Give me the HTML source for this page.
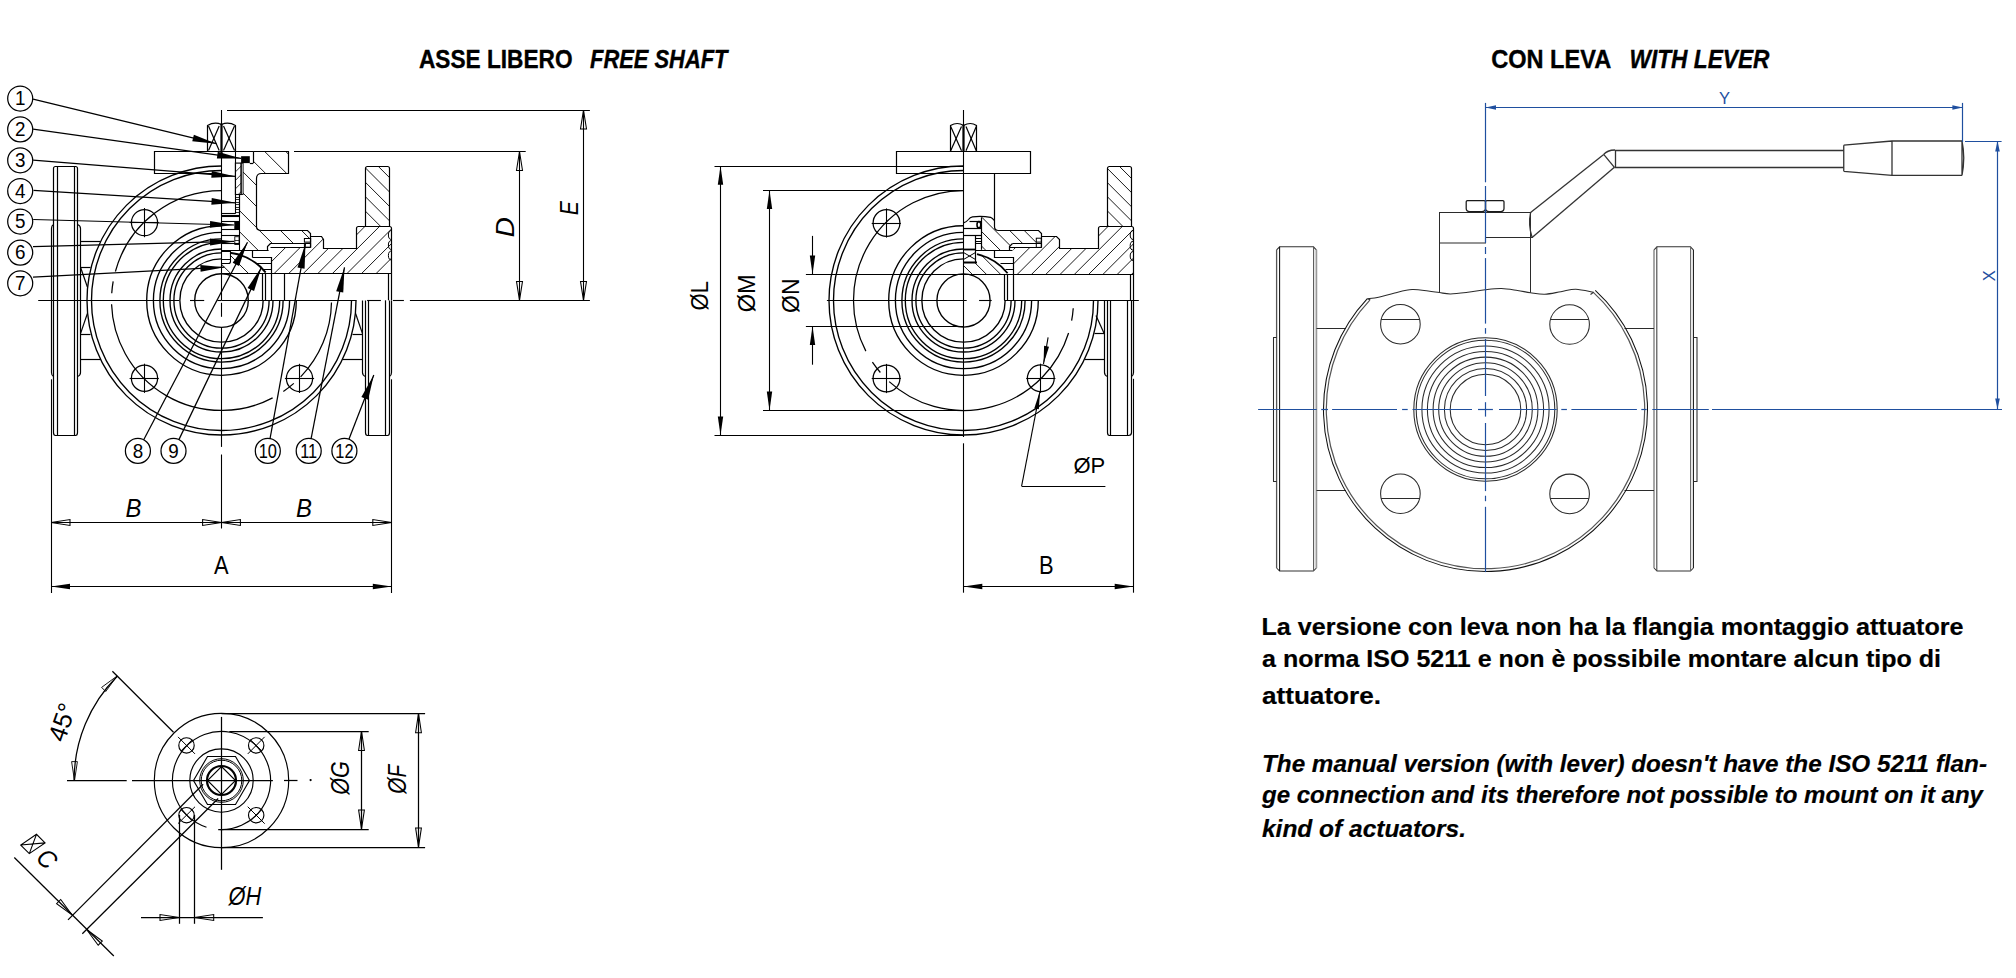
<!DOCTYPE html>
<html><head><meta charset="utf-8">
<style>
html,body{margin:0;padding:0;background:#fff;}
body{width:2016px;height:978px;overflow:hidden;position:relative;}
svg{position:absolute;left:0;top:0;}
text{font-family:"Liberation Sans",sans-serif;}
</style></head><body>
<svg width="2016" height="978" viewBox="0 0 2016 978">

<g font-weight="bold" font-size="25.2" stroke="#000" stroke-width="0.35">
<text x="419" y="67.8" textLength="153.5" lengthAdjust="spacingAndGlyphs">ASSE LIBERO</text>
<text x="590" y="67.8" textLength="137.5" lengthAdjust="spacingAndGlyphs" font-style="italic">FREE SHAFT</text>
<text x="1491.2" y="68" textLength="120" lengthAdjust="spacingAndGlyphs">CON LEVA</text>
<text x="1629.5" y="68" textLength="140" lengthAdjust="spacingAndGlyphs" font-style="italic">WITH LEVER</text>
</g>
<g font-weight="bold" font-size="24" stroke="#000" stroke-width="0.2">
<text x="1261.5" y="635" textLength="702" lengthAdjust="spacingAndGlyphs">La versione con leva non ha la flangia montaggio attuatore</text>
<text x="1262" y="666.6" textLength="679" lengthAdjust="spacingAndGlyphs">a norma ISO 5211 e non è possibile montare alcun tipo di</text>
<text x="1262" y="703.5" textLength="119" lengthAdjust="spacingAndGlyphs">attuatore.</text>
</g>
<g font-weight="bold" font-style="italic" font-size="24" stroke="#000" stroke-width="0.2">
<text x="1262" y="771.7" textLength="725" lengthAdjust="spacingAndGlyphs">The manual version (with lever) doesn't have the ISO 5211 flan-</text>
<text x="1262" y="803.3" textLength="721" lengthAdjust="spacingAndGlyphs">ge connection and its therefore not possible to mount on it any</text>
<text x="1262" y="836.5" textLength="204" lengthAdjust="spacingAndGlyphs">kind of actuators.</text>
</g>
<g fill="none" stroke="#2b2b2b" stroke-width="1.05">
<path d="M1276.6,249.8 L1279.6,246.8 L1313.4,246.8 L1316.4,249.8 M1316.4,568 L1313.4,571 L1279.6,571 L1276.6,568" stroke="#333"/><line x1="1276.6" y1="249.8" x2="1276.6" y2="568" stroke="#555" stroke-width="1.3"/><line x1="1279.6" y1="246.8" x2="1279.6" y2="571" stroke="#111" stroke-width="1.05"/><line x1="1313.6" y1="246.8" x2="1313.6" y2="571" stroke="#555" stroke-width="1.1"/><line x1="1316.4" y1="249.8" x2="1316.4" y2="568" stroke="#999" stroke-width="1.7"/>
<path d="M1654.0,249.8 L1657.0,246.8 L1690.4,246.8 L1693.4,249.8 M1693.4,568 L1690.4,571 L1657.0,571 L1654.0,568" stroke="#333"/><line x1="1654.0" y1="249.8" x2="1654.0" y2="568" stroke="#999" stroke-width="1.7"/><line x1="1656.8" y1="246.8" x2="1656.8" y2="571" stroke="#444" stroke-width="1.1"/><line x1="1690.6" y1="246.8" x2="1690.6" y2="571" stroke="#666" stroke-width="1.1"/><line x1="1693.4" y1="249.8" x2="1693.4" y2="568" stroke="#111" stroke-width="1.05"/>
<path d="M1276.6,337.5 H1273.5 V481.5 H1276.6"/>
<path d="M1693.4,337.5 H1697 V481.5 H1693.4"/>
<line x1="1316.5" y1="328.5" x2="1346" y2="328.5"/><line x1="1316.5" y1="490.5" x2="1346" y2="490.5"/>
<line x1="1624.5" y1="328.5" x2="1654" y2="328.5"/>
<line x1="1624.5" y1="490.5" x2="1654" y2="490.5"/>
<path d="M1595.28,290.37 A162,162 0 1 1 1367.35,298.66" stroke="#111"/>
<path d="M1592.84,291.93 A159.2,159.2 0 1 1 1369.86,300.08" stroke="#555" stroke-width="1.2"/>
<line x1="1367.5" y1="298.8" x2="1370.3" y2="299.8"/><line x1="1593.5" y1="292.3" x2="1590.5" y2="294.5"/>
<path d="M1367.4,298.8 C1369.27,298.55 1374.05,298.28 1378.6,297.3 C1383.15,296.32 1389.12,294.18 1394.7,292.9 C1400.28,291.62 1406.52,289.9 1412.1,289.6 C1417.68,289.3 1423.65,290.6 1428.2,291.1 C1432.75,291.6 1435.68,292.13 1439.4,292.6 C1443.12,293.07 1445.75,293.95 1450.5,293.9 C1455.25,293.85 1462.12,292.98 1467.9,292.3 C1473.68,291.62 1479.62,290.42 1485.2,289.8 C1490.78,289.18 1496.02,288.48 1501.4,288.6 C1506.78,288.72 1512.65,289.82 1517.5,290.5 C1522.35,291.18 1525.95,292.08 1530.5,292.7 C1535.05,293.32 1539.73,294.37 1544.8,294.2 C1549.87,294.03 1555.73,292.53 1560.9,291.7 C1566.07,290.87 1570.43,289.1 1575.8,289.2 C1581.17,289.3 1590.22,291.78 1593.1,292.3"/>
<line x1="1439.5" y1="212" x2="1439.5" y2="292.6"/><line x1="1530.5" y1="212" x2="1530.5" y2="292.7"/>
<line x1="1439.3" y1="212.5" x2="1530.6" y2="212.5"/>
<path d="M1439.3,243 H1485.5 V237.4 H1533"/>
<path d="M1466.2,201.8 Q1466.2,200.7 1467.4,200.7 H1484.2 Q1485.4,200.7 1485.4,201.8 V208.5 Q1485.4,211.5 1481.9,211.7 H1469.7 Q1466.2,211.5 1466.2,208.5 Z" stroke="#1a1a1a" stroke-width="1.25"/>
<path d="M1485.6,201.8 Q1485.6,200.7 1486.8,200.7 H1502.8 Q1504,200.7 1504,201.8 V208.5 Q1504,211.5 1500.5,211.7 H1489.1 Q1485.6,211.5 1485.6,208.5 Z" stroke="#1a1a1a" stroke-width="1.25"/>
<g stroke="#333" stroke-width="1.3">
<line x1="1530.6" y1="212.4" x2="1603.7" y2="154.4"/>
<line x1="1532.1" y1="237.4" x2="1614.4" y2="167.3"/>
<path d="M1603.7,154.4 Q1607,150.2 1615,150"/>
<line x1="1603.7" y1="154.4" x2="1614.4" y2="167.3"/><line x1="1615.5" y1="150" x2="1615.5" y2="167.2"/>
<line x1="1615" y1="150.5" x2="1843.75" y2="150.5"/><line x1="1614.4" y1="167.5" x2="1843.75" y2="167.5"/>
<path d="M1843.75,145.2 L1892,141 H1962 M1843.75,171.3 L1892,175.4 H1962 M1843.75,145.2 V171.3 M1892,141 V175.4"/>
<path d="M1962,141 Q1965.5,158 1962,175.4 Z"/>
<path d="M1530.6,212.4 Q1528,225 1532.1,237.4"/>
</g>
<circle cx="1400.4" cy="324.2" r="19.8"/>
<line x1="1381.22" y1="319.5" x2="1419.58" y2="319.5"/>
<circle cx="1569.6" cy="324.5" r="19.8"/>
<line x1="1550.5" y1="319.5" x2="1588.7" y2="319.5"/>
<circle cx="1400.4" cy="493.7" r="19.8"/>
<line x1="1381.12" y1="498.5" x2="1419.68" y2="498.5"/>
<circle cx="1569.6" cy="493.9" r="19.8"/>
<line x1="1550.34" y1="498.5" x2="1588.86" y2="498.5"/>
<circle cx="1485.5" cy="409.5" r="71.7"/>
<circle cx="1485.5" cy="409.5" r="69.3"/>
<circle cx="1485.5" cy="409.5" r="63.6"/>
<circle cx="1485.5" cy="409.5" r="58.1"/>
<circle cx="1485.5" cy="409.5" r="52.4"/>
<circle cx="1485.5" cy="409.5" r="46.8"/>
<circle cx="1485.5" cy="409.5" r="41.1"/>
<circle cx="1485.5" cy="409.5" r="35.3"/>
</g>
<g stroke="#1f4f9f" stroke-width="1.2" fill="none">
<line x1="1258.1" y1="409.5" x2="1316.7" y2="409.5"/>
<line x1="1321.2" y1="409.5" x2="1328" y2="409.5"/>
<line x1="1332.1" y1="409.5" x2="1397" y2="409.5"/>
<line x1="1402.1" y1="409.5" x2="1407.7" y2="409.5"/>
<line x1="1412.5" y1="409.5" x2="1472" y2="409.5"/>
<line x1="1478" y1="409.5" x2="1492.9" y2="409.5"/>
<line x1="1499" y1="409.5" x2="1556.8" y2="409.5"/>
<line x1="1561.3" y1="409.5" x2="1566.9" y2="409.5"/>
<line x1="1571.4" y1="409.5" x2="1636.9" y2="409.5"/>
<line x1="1641.3" y1="409.5" x2="1646.7" y2="409.5"/>
<line x1="1652.3" y1="409.5" x2="1708.8" y2="409.5"/>
<line x1="1712" y1="409.5" x2="2002" y2="409.5"/>
<line x1="1485.5" y1="102.9" x2="1485.5" y2="182.3"/>
<line x1="1485.5" y1="186" x2="1485.5" y2="243"/>
<line x1="1485.5" y1="247" x2="1485.5" y2="254"/>
<line x1="1485.5" y1="258.1" x2="1485.5" y2="323.6"/>
<line x1="1485.5" y1="328.1" x2="1485.5" y2="333.7"/>
<line x1="1485.5" y1="338.9" x2="1485.5" y2="396"/>
<line x1="1485.5" y1="402.2" x2="1485.5" y2="416.6"/>
<line x1="1485.5" y1="423" x2="1485.5" y2="491.1"/>
<line x1="1485.5" y1="495.7" x2="1485.5" y2="501.2"/>
<line x1="1485.5" y1="506.8" x2="1485.5" y2="572.1"/>
<line x1="1485.5" y1="107.5" x2="1962.9" y2="107.5"/><line x1="1962.5" y1="102.9" x2="1962.5" y2="142"/><line x1="1965" y1="141.5" x2="2001.6" y2="141.5"/><line x1="1997.5" y1="141" x2="1997.5" y2="409"/>
</g>
<path d="M1485.5,107.5 L1496,105.2 L1496,109.8 Z" fill="#1f4f9f" stroke="none"/><path d="M1962.9,107.5 L1952.4,109.8 L1952.4,105.2 Z" fill="#1f4f9f" stroke="none"/>
<path d="M1997.5,141 L1999.8,151.5 L1995.2,151.5 Z" fill="#1f4f9f" stroke="none"/><path d="M1997.5,408.9 L1995.2,398.4 L1999.8,398.4 Z" fill="#1f4f9f" stroke="none"/>
<text x="1724.4" y="104.2" font-size="16.5" fill="#1f4f9f" text-anchor="middle">Y</text>
<text transform="translate(1994.6,275.7) rotate(-90)" font-size="16.5" fill="#1f4f9f" text-anchor="middle">X</text>
<g fill="none" stroke="#000" stroke-width="1.2">
<circle cx="20.2" cy="98.5" r="12.5" stroke-width="1.25"/>
<circle cx="20.2" cy="129.4" r="12.5" stroke-width="1.25"/>
<circle cx="20.2" cy="160.3" r="12.5" stroke-width="1.25"/>
<circle cx="20.2" cy="191" r="12.5" stroke-width="1.25"/>
<circle cx="20.2" cy="221.5" r="12.5" stroke-width="1.25"/>
<circle cx="20.2" cy="252.6" r="12.5" stroke-width="1.25"/>
<circle cx="20.2" cy="283.3" r="12.5" stroke-width="1.25"/>
<line x1="33.1" y1="99.2" x2="216.4" y2="143.7" stroke-width="1.25"/>
<line x1="33.1" y1="129.1" x2="241.1" y2="158.4" stroke-width="1.25"/>
<line x1="33.1" y1="160.2" x2="235.5" y2="176.4" stroke-width="1.25"/>
<line x1="33.5" y1="190.3" x2="235.5" y2="202.8" stroke-width="1.25"/>
<line x1="33.2" y1="219.5" x2="234" y2="225" stroke-width="1.25"/>
<line x1="33" y1="246.6" x2="234" y2="241.4" stroke-width="1.25"/>
<line x1="33" y1="277.2" x2="224.4" y2="267.2" stroke-width="1.25"/>
<circle cx="137.9" cy="450.9" r="12.5" stroke-width="1.25"/>
<line x1="143.71" y1="439.83" x2="247.5" y2="242.2" stroke-width="1.25"/>
<circle cx="173.5" cy="450.9" r="12.5" stroke-width="1.25"/>
<line x1="178.9" y1="439.63" x2="261.6" y2="267" stroke-width="1.25"/>
<circle cx="267.8" cy="450.9" r="12.5" stroke-width="1.25"/>
<line x1="270.04" y1="438.6" x2="305.5" y2="243.5" stroke-width="1.25"/>
<circle cx="308.7" cy="450.9" r="12.5" stroke-width="1.25"/>
<line x1="311.09" y1="438.63" x2="344.5" y2="267.3" stroke-width="1.25"/>
<circle cx="344.4" cy="450.9" r="12.5" stroke-width="1.25"/>
<line x1="348.92" y1="439.25" x2="373.8" y2="375.1" stroke-width="1.25"/>
</g>
<path d="M216.4,143.7 L192.28,141.34 L193.88,134.73 Z" fill="#000" stroke="none"/>
<path d="M241.1,158.4 L216.86,158.42 L217.81,151.69 Z" fill="#000" stroke="none"/>
<path d="M235.5,176.4 L211.31,177.87 L211.85,171.1 Z" fill="#000" stroke="none"/>
<path d="M235.5,202.8 L211.34,204.71 L211.76,197.92 Z" fill="#000" stroke="none"/>
<path d="M234,225 L209.92,227.74 L210.1,220.94 Z" fill="#000" stroke="none"/>
<path d="M234,241.4 L210.1,245.42 L209.92,238.62 Z" fill="#000" stroke="none"/>
<path d="M224.4,267.2 L200.61,271.85 L200.26,265.06 Z" fill="#000" stroke="none"/>
<path d="M247.5,242.2 L239.06,266.01 L232.69,262.66 Z" fill="#000" stroke="none"/>
<path d="M261.6,267 L254.05,291.1 L247.55,287.99 Z" fill="#000" stroke="none"/>
<path d="M305.5,243.5 L304.57,268.74 L297.49,267.45 Z" fill="#000" stroke="none"/>
<path d="M344.5,267.3 L343.25,292.53 L336.18,291.15 Z" fill="#000" stroke="none"/>
<path d="M373.8,375.1 L368.12,399.71 L361.4,397.11 Z" fill="#000" stroke="none"/>
<text transform="translate(20.2,105.2) scale(0.92,1.0)" font-size="20.5" text-anchor="middle" fill="#000">1</text>
<text transform="translate(20.2,136.1) scale(0.92,1.0)" font-size="20.5" text-anchor="middle" fill="#000">2</text>
<text transform="translate(20.2,167) scale(0.92,1.0)" font-size="20.5" text-anchor="middle" fill="#000">3</text>
<text transform="translate(20.2,197.7) scale(0.92,1.0)" font-size="20.5" text-anchor="middle" fill="#000">4</text>
<text transform="translate(20.2,228.2) scale(0.92,1.0)" font-size="20.5" text-anchor="middle" fill="#000">5</text>
<text transform="translate(20.2,259.3) scale(0.92,1.0)" font-size="20.5" text-anchor="middle" fill="#000">6</text>
<text transform="translate(20.2,290) scale(0.92,1.0)" font-size="20.5" text-anchor="middle" fill="#000">7</text>
<text transform="translate(137.9,457.6) scale(0.92,1.0)" font-size="20.5" text-anchor="middle" fill="#000">8</text>
<text transform="translate(173.5,457.6) scale(0.92,1.0)" font-size="20.5" text-anchor="middle" fill="#000">9</text>
<text transform="translate(267.8,457.6) scale(0.8,1.0)" font-size="20.5" text-anchor="middle" fill="#000">10</text>
<text transform="translate(308.7,457.6) scale(0.8,1.0)" font-size="20.5" text-anchor="middle" fill="#000">11</text>
<text transform="translate(344.4,457.6) scale(0.8,1.0)" font-size="20.5" text-anchor="middle" fill="#000">12</text>
<g fill="none" stroke="#000" stroke-width="1.2">
<path d="M356,300.5 A134.5,134.5 0 1 1 221.5,166" stroke-width="1.35"/>
<path d="M351.5,300.5 A130,130 0 1 1 221.5,170.5" stroke-width="1.35"/>
<path d="M296.3,300.5 A74.8,74.8 0 1 1 221.5,225.7" stroke-width="1.35"/>
<path d="M289.6,300.5 A68.1,68.1 0 1 1 221.5,232.4" stroke-width="1.35"/>
<path d="M283.1,300.5 A61.6,61.6 0 1 1 221.5,238.9" stroke-width="1.35"/>
<path d="M279.7,300.5 A58.2,58.2 0 1 1 221.5,242.3" stroke-width="1.35"/>
<path d="M273,300.5 A51.5,51.5 0 1 1 221.5,249" stroke-width="1.35"/>
<path d="M269.1,300.5 A47.6,47.6 0 1 1 221.5,252.9" stroke-width="1.35"/>
<path d="M263.15,300.5 A41.65,41.65 0 1 1 221.5,258.85" stroke-width="1.35"/>
<circle cx="221.5" cy="300.5" r="26.8" stroke-width="1.35"/>
<path d="M115.4,271.47 A110,110 0 0 1 221.5,190.5" stroke-width="1.25"/>
<path d="M111.74,293.21 A110,110 0 0 1 113.17,281.4" stroke-width="1.25"/>
<path d="M272.63,397.89 A110,110 0 0 1 111.57,304.34" stroke-width="1.25"/>
<path d="M293.81,383.39 A110,110 0 0 1 283.33,391.48" stroke-width="1.25"/>
<path d="M331.48,302.42 A110,110 0 0 1 300.63,376.91" stroke-width="1.25"/>
<circle cx="144.5" cy="222.6" r="13.1" stroke-width="1.25"/>
<line x1="129.6" y1="222.5" x2="158.8" y2="222.5" stroke-width="1.1"/><line x1="144.5" y1="208" x2="144.5" y2="237.2" stroke-width="1.1"/>
<circle cx="144.5" cy="378.3" r="13.1" stroke-width="1.25"/>
<line x1="129.6" y1="378.5" x2="158.8" y2="378.5" stroke-width="1.1"/><line x1="144.5" y1="363.7" x2="144.5" y2="392.9" stroke-width="1.1"/>
<circle cx="299.5" cy="378.4" r="13.1" stroke-width="1.25"/>
<line x1="284.9" y1="378.5" x2="314.1" y2="378.5" stroke-width="1.1"/><line x1="299.5" y1="363.8" x2="299.5" y2="393" stroke-width="1.1"/>
</g>
<g fill="none" stroke="#000" stroke-width="1.2">
<path d="M53.5,168.5 Q53.5,166.5 55.5,166.5 H75.5 Q77.5,166.5 77.5,168.5 V432.5 Q77.5,435.5 75.5,435.5 H55.5 Q53.5,435.5 53.5,432.5 Z"/>
<line x1="57.5" y1="166.1" x2="57.5" y2="435.3"/><line x1="74.5" y1="166.1" x2="74.5" y2="435.3"/>
<path d="M53.5,224.5 Q51.5,225.5 51.5,228.5 V372.5 Q51.5,375.5 53.5,376.5"/>
<path d="M77.5,224.5 Q80.5,225.5 80.5,228.5 V372.5 Q80.5,375.5 77.5,376.5"/>
<line x1="80.5" y1="241.5" x2="100.5" y2="241.5"/><line x1="80.5" y1="267.5" x2="90.5" y2="267.5"/><line x1="80.6" y1="267.5" x2="87.4" y2="287"/>
<line x1="80.5" y1="334.5" x2="90.5" y2="334.5"/><line x1="80.5" y1="359.5" x2="100.5" y2="359.5"/><line x1="80.6" y1="333.4" x2="87.4" y2="313.5"/>
<path d="M389.5,300.5 V432.5 Q389.5,435.5 387.5,435.5 H367.5 Q365.5,435.5 365.5,432.5 V300.5"/>
<line x1="385.5" y1="300.3" x2="385.5" y2="435.3"/><line x1="368.5" y1="300.3" x2="368.5" y2="435.3"/>
<path d="M391.5,300.5 V372.5 Q391.5,375.5 389.5,376.5"/>
<path d="M362.5,300.5 V372.5 Q362.5,375.5 365.5,376.5"/>
<line x1="362.5" y1="334.5" x2="352.5" y2="334.5"/><line x1="362.5" y1="359.5" x2="342.5" y2="359.5"/><line x1="362.4" y1="333.4" x2="355.6" y2="313.5"/>
</g>
<g fill="none" stroke="#000" stroke-width="1.2">
<clipPath id="hc1"><path d="M365.5,168 Q365.5,166.1 367.5,166.1 H387.4 Q389.4,166.1 389.4,168 V226 H365.5 Z"/></clipPath><g clip-path="url(#hc1)" stroke="#000" stroke-width="0.9"><line x1="291.38" y1="166" x2="351.38" y2="226"/><line x1="305.8" y1="166" x2="365.8" y2="226"/><line x1="320.23" y1="166" x2="380.23" y2="226"/><line x1="334.65" y1="166" x2="394.65" y2="226"/><line x1="349.08" y1="166" x2="409.08" y2="226"/><line x1="363.5" y1="166" x2="423.5" y2="226"/><line x1="377.92" y1="166" x2="437.92" y2="226"/><line x1="392.35" y1="166" x2="452.35" y2="226"/></g>
<path d="M365.5,168.5 Q365.5,166.5 367.5,166.5 H387.5 Q389.5,166.5 389.5,168.5 V226.5 H365.5 Z"/>
<clipPath id="hc2"><path d="M310.7,236.2 H321 L323.3,239.4 V248.1 H356.7 V228.5 Q356.7,226.7 358.7,226.7 H389.6 Q391.6,226.7 391.6,228.7 V273.1 H271.7 V247.2 H310.7 Z"/></clipPath><g clip-path="url(#hc2)" stroke="#000" stroke-width="0.9"><line x1="263.4" y1="226" x2="215.4" y2="274"/><line x1="277.97" y1="226" x2="229.97" y2="274"/><line x1="292.53" y1="226" x2="244.53" y2="274"/><line x1="307.1" y1="226" x2="259.1" y2="274"/><line x1="321.67" y1="226" x2="273.67" y2="274"/><line x1="336.23" y1="226" x2="288.23" y2="274"/><line x1="350.8" y1="226" x2="302.8" y2="274"/><line x1="365.37" y1="226" x2="317.37" y2="274"/><line x1="379.93" y1="226" x2="331.93" y2="274"/><line x1="394.5" y1="226" x2="346.5" y2="274"/><line x1="409.07" y1="226" x2="361.07" y2="274"/><line x1="423.63" y1="226" x2="375.63" y2="274"/><line x1="438.2" y1="226" x2="390.2" y2="274"/><line x1="452.76" y1="226" x2="404.76" y2="274"/></g>
<path d="M310.5,236.5 H321.5 L323.5,239.5 V248.5 H356.5 V228.5 Q356.5,226.5 358.5,226.5 H389.5 Q391.5,226.5 391.5,228.5 V273.5"/>
<path d="M391.6,230.5 A3.2,4.5 0 0 0 391.6,239.5" stroke-width="1"/>
<path d="M391.6,240.5 A3.2,4.5 0 0 0 391.6,249.5" stroke-width="1"/>
<path d="M391.6,251 A3.2,4.5 0 0 0 391.6,260" stroke-width="1"/>
<clipPath id="hc3"><path d="M253.3,151.3 H288.8 V173.6 H261 Q256.4,173.6 256.4,178.5 V226 Q256.4,230 261.6,230 H307.6 L310.7,233 V243.3 H270.8 L267.6,246 V250.2 H239.8 V194.5 H243.1 V163.1 H253.3 Z"/></clipPath><g clip-path="url(#hc3)" stroke="#000" stroke-width="0.9"><line x1="115.7" y1="150" x2="217.7" y2="252"/><line x1="136.77" y1="150" x2="238.77" y2="252"/><line x1="157.84" y1="150" x2="259.84" y2="252"/><line x1="178.91" y1="150" x2="280.91" y2="252"/><line x1="199.98" y1="150" x2="301.98" y2="252"/><line x1="221.06" y1="150" x2="323.06" y2="252"/><line x1="242.13" y1="150" x2="344.13" y2="252"/><line x1="263.2" y1="150" x2="365.2" y2="252"/><line x1="284.27" y1="150" x2="386.27" y2="252"/><line x1="305.34" y1="150" x2="407.34" y2="252"/><line x1="326.42" y1="150" x2="428.42" y2="252"/></g>
<path d="M253.5,151.5 H288.5 V173.5 H261.5 Q256.5,173.5 256.5,178.5 V226.5 Q256.5,230.5 261.5,230.5 H307.5 L310.5,233.5 V247.5"/>
<line x1="253.5" y1="151.3" x2="253.5" y2="163.1"/><line x1="249.8" y1="163.5" x2="253.3" y2="163.5"/>
<path d="M270.5,243.5 H310.5 M270.5,247.5 H310.5 M270.5,243.5 L267.5,246.5 V250.5"/>
<rect x="304.4" y="238.5" width="6.3" height="3.6" stroke-width="1"/><rect x="304.4" y="243.3" width="6.3" height="3.9" stroke-width="1"/>
<clipPath id="hc4"><path d="M230.4,252.8 L230,252.8 A55.75,55.75 0 0 1 265.6,272.3 L265.6,273.3 H221.5 V263.2 H228.4 Q230.4,263.2 230.4,261 Z"/></clipPath><g clip-path="url(#hc4)" stroke="#000" stroke-width="0.9"><line x1="189.38" y1="250" x2="213.38" y2="274"/><line x1="207.2" y1="250" x2="231.2" y2="274"/><line x1="225.02" y1="250" x2="249.02" y2="274"/><line x1="242.84" y1="250" x2="266.84" y2="274"/><line x1="260.66" y1="250" x2="284.66" y2="274"/><line x1="278.48" y1="250" x2="302.48" y2="274"/></g>
<path d="M252.5,250.5 V257.5 M252.5,257.5 H271.5 V273.5 M256.5,263.5 H271.5 M262.5,269.5 H271.5"/>
<line x1="221.5" y1="250.5" x2="268.6" y2="250.5"/>
<line x1="221.5" y1="273.5" x2="391.6" y2="273.5"/>
<line x1="262.5" y1="273.3" x2="262.5" y2="300.3"/>
<line x1="265.5" y1="273.3" x2="265.5" y2="300.3"/>
<line x1="271.5" y1="273.3" x2="271.5" y2="300.3"/>
<line x1="284.5" y1="273.3" x2="284.5" y2="300.3"/>
<line x1="388.5" y1="273.3" x2="388.5" y2="300.3"/>
<line x1="391.5" y1="273.3" x2="391.5" y2="300.3"/>
<path d="M230,252.8 A55.75,55.75 0 0 1 265.6,272.3" stroke-width="1.9"/>
</g>
<g fill="none" stroke="#000" stroke-width="1.2">
<path d="M253.5,151.5 H154.5 V173.5 H221.5"/>
<path d="M207.5,151.5 V125.5 Q214.5,121.5 221.5,124.5 Q228.5,121.5 235.5,125.5 V151.5"/>
<line x1="208.5" y1="126" x2="219.2" y2="150.5"/><line x1="219.2" y1="126" x2="208.5" y2="150.5"/><line x1="223.5" y1="126" x2="234.5" y2="150.5"/><line x1="234.5" y1="126" x2="223.5" y2="150.5"/>
</g>
<line x1="221.5" y1="123.5" x2="221.5" y2="156" stroke="#000" stroke-width="2.2"/>
<g fill="none" stroke="#000" stroke-width="1.1">
<line x1="235.5" y1="151.3" x2="235.5" y2="213.7"/>
<rect x="235.4" y="163.1" width="5.7" height="31.4"/>
<clipPath id="hc5"><path d="M235.4,163.1 H241.1 V194.5 H235.4 Z"/></clipPath><g clip-path="url(#hc5)" stroke="#000" stroke-width="0.8"><line x1="227.32" y1="163" x2="195.32" y2="195"/><line x1="235.81" y1="163" x2="203.81" y2="195"/><line x1="244.29" y1="163" x2="212.29" y2="195"/><line x1="252.78" y1="163" x2="220.78" y2="195"/><line x1="261.26" y1="163" x2="229.26" y2="195"/><line x1="269.75" y1="163" x2="237.75" y2="195"/><line x1="278.23" y1="163" x2="246.23" y2="195"/></g>
<rect x="241.1" y="163.1" width="2" height="31.4" stroke-width="0.9"/>
<line x1="235.4" y1="194.5" x2="239.5" y2="194.5" stroke-width="0.8"/>
<line x1="235.4" y1="197.5" x2="239.5" y2="197.5" stroke-width="0.8"/>
<line x1="235.4" y1="199.5" x2="239.5" y2="199.5" stroke-width="0.8"/>
<line x1="235.4" y1="202.5" x2="239.5" y2="202.5" stroke-width="0.8"/>
<line x1="235.4" y1="204.5" x2="239.5" y2="204.5" stroke-width="0.8"/>
<line x1="235.4" y1="207.5" x2="239.5" y2="207.5" stroke-width="0.8"/>
<line x1="235.4" y1="209.5" x2="239.5" y2="209.5" stroke-width="0.8"/>
<line x1="235.4" y1="212.5" x2="239.5" y2="212.5" stroke-width="0.8"/>
<line x1="239.5" y1="194.5" x2="239.5" y2="214.5"/>
<line x1="221.5" y1="213.5" x2="235.4" y2="213.5"/><line x1="221.5" y1="215.5" x2="239.8" y2="215.5"/><line x1="221.5" y1="216.5" x2="239.8" y2="216.5"/>
<line x1="221.5" y1="221.5" x2="239.8" y2="221.5"/>
<line x1="221.5" y1="229.5" x2="239.8" y2="229.5"/>
<line x1="221.5" y1="235.5" x2="239.8" y2="235.5"/>
<line x1="221.5" y1="243.5" x2="239.8" y2="243.5"/>
<rect x="234.8" y="236.7" width="4.3" height="7.8" stroke-width="0.9"/><line x1="234.8" y1="240.5" x2="239.1" y2="240.5" stroke-width="0.8"/>
<line x1="239.5" y1="194.5" x2="239.5" y2="250.2"/>
<path d="M230.5,250.5 V261.5 Q230.5,263.5 228.5,263.5 H221.5 M221.5,251.5 H230.5 M221.5,259.5 H230.5"/>
</g>
<rect x="234.3" y="221.9" width="4.8" height="7.4" fill="#000"/>
<rect x="241.1" y="156.2" width="8.7" height="6.9" fill="#000"/>
<g stroke="#000" stroke-width="1.1" fill="none">
<line x1="221.5" y1="110" x2="221.5" y2="300.3"/>
<line x1="221.5" y1="300.5" x2="356.6" y2="300.5"/><line x1="367.1" y1="300.5" x2="380.9" y2="300.5"/><line x1="392.9" y1="300.5" x2="403.9" y2="300.5"/><line x1="409.9" y1="300.5" x2="589.9" y2="300.5"/>
<line x1="221.5" y1="302.8" x2="221.5" y2="316.8"/><line x1="221.5" y1="327" x2="221.5" y2="446.9"/><line x1="221.5" y1="454.5" x2="221.5" y2="528.5"/>
<line x1="38.2" y1="300.5" x2="179.1" y2="300.5"/><line x1="190" y1="300.5" x2="204.2" y2="300.5"/><line x1="217.3" y1="300.5" x2="221.5" y2="300.5"/>
<line x1="227" y1="110.5" x2="589.9" y2="110.5"/><line x1="294" y1="151.5" x2="525.7" y2="151.5"/>
<line x1="519.5" y1="151.5" x2="519.5" y2="300.3"/><line x1="583.5" y1="110.1" x2="583.5" y2="300.3"/>
<line x1="51.5" y1="379.3" x2="51.5" y2="593"/><line x1="391.5" y1="379.3" x2="391.5" y2="593"/>
<line x1="51.1" y1="522.5" x2="391.7" y2="522.5"/><line x1="51.1" y1="586.5" x2="391.7" y2="586.5"/>
</g>
<path d="M519.5,151.5 L522.5,170.4 L516.5,170.4 Z" fill="none" stroke="#000" stroke-width="1.05" stroke-linejoin="miter"/>
<path d="M519.5,300.3 L516.5,281.4 L522.5,281.4 Z" fill="none" stroke="#000" stroke-width="1.05" stroke-linejoin="miter"/>
<path d="M583.5,110.1 L586.5,129 L580.5,129 Z" fill="none" stroke="#000" stroke-width="1.05" stroke-linejoin="miter"/>
<path d="M583.5,300.3 L580.5,281.4 L586.5,281.4 Z" fill="none" stroke="#000" stroke-width="1.05" stroke-linejoin="miter"/>
<path d="M51.1,522.5 L70,519.5 L70,525.5 Z" fill="none" stroke="#000" stroke-width="1.05" stroke-linejoin="miter"/>
<path d="M221.5,522.5 L202.6,525.5 L202.6,519.5 Z" fill="none" stroke="#000" stroke-width="1.05" stroke-linejoin="miter"/>
<path d="M221.5,522.5 L240.4,519.5 L240.4,525.5 Z" fill="none" stroke="#000" stroke-width="1.05" stroke-linejoin="miter"/>
<path d="M391.7,522.5 L372.8,525.5 L372.8,519.5 Z" fill="none" stroke="#000" stroke-width="1.05" stroke-linejoin="miter"/>
<path d="M51.1,586.5 L70,583.7 L70,589.3 Z" fill="#000" stroke="none"/><path d="M391.7,586.5 L372.8,589.3 L372.8,583.7 Z" fill="#000" stroke="none"/>
<text transform="translate(133.5,517.1) scale(0.91,1.0)" font-size="26.3" text-anchor="middle" fill="#000" font-style="italic">B</text>
<text transform="translate(303.9,517.1) scale(0.91,1.0)" font-size="26.3" text-anchor="middle" fill="#000" font-style="italic">B</text>
<text transform="translate(221.25,574.1) scale(0.83,1.0)" font-size="26.3" text-anchor="middle" fill="#000">A</text>
<text transform="translate(514.3,227.2) rotate(-90) scale(1.05,1.0)" font-size="26.5" text-anchor="middle" fill="#000" font-style="italic">D</text>
<text transform="translate(578.3,208.3) rotate(-90) scale(0.8,1.0)" font-size="26.5" text-anchor="middle" fill="#000" font-style="italic">E</text>
<g fill="none" stroke="#000" stroke-width="1.2">
<path d="M1098,300.5 A134.5,134.5 0 1 1 963.5,166" stroke-width="1.35"/>
<path d="M1093.5,300.5 A130,130 0 1 1 963.5,170.5" stroke-width="1.35"/>
<path d="M1038.3,300.5 A74.8,74.8 0 1 1 963.5,225.7" stroke-width="1.35"/>
<path d="M1031.6,300.5 A68.1,68.1 0 1 1 963.5,232.4" stroke-width="1.35"/>
<path d="M1025.1,300.5 A61.6,61.6 0 1 1 963.5,238.9" stroke-width="1.35"/>
<path d="M1021.7,300.5 A58.2,58.2 0 1 1 963.5,242.3" stroke-width="1.35"/>
<path d="M1015,300.5 A51.5,51.5 0 1 1 963.5,249" stroke-width="1.35"/>
<path d="M1011.1,300.5 A47.6,47.6 0 1 1 963.5,252.9" stroke-width="1.35"/>
<path d="M1005.15,300.5 A41.65,41.65 0 1 1 963.5,258.85" stroke-width="1.35"/>
<circle cx="963.5" cy="300.5" r="26.6" stroke-width="1.35"/>
<path d="M865.84,351.12 A110,110 0 0 1 963.5,190.5" stroke-width="1.25"/>
<path d="M880.36,372.52 A110,110 0 0 1 872.41,362.17" stroke-width="1.25"/>
<path d="M1068.58,333.03 A110,110 0 0 1 889.19,381.6" stroke-width="1.25"/>
<path d="M1073.23,308.17 A110,110 0 0 1 1071.62,320.73" stroke-width="1.25"/>
<circle cx="886.5" cy="223" r="13.4" stroke-width="1.25"/>
<line x1="871.7" y1="223.5" x2="900.9" y2="223.5" stroke-width="1.1"/><line x1="886.5" y1="208.4" x2="886.5" y2="237.6" stroke-width="1.1"/>
<circle cx="886.5" cy="378.5" r="13.4" stroke-width="1.25"/>
<line x1="871.7" y1="378.5" x2="900.9" y2="378.5" stroke-width="1.1"/><line x1="886.5" y1="363.9" x2="886.5" y2="393.1" stroke-width="1.1"/>
<circle cx="1040.8" cy="378.3" r="13.4" stroke-width="1.25"/>
<line x1="1026.2" y1="378.5" x2="1055.4" y2="378.5" stroke-width="1.1"/><line x1="1040.5" y1="363.7" x2="1040.5" y2="392.9" stroke-width="1.1"/>
<path d="M1107.5,300.5 V432.5 Q1107.5,435.5 1109.5,435.5 H1128.5 Q1131.5,435.5 1131.5,432.5 V300.5"/>
<line x1="1110.5" y1="300.3" x2="1110.5" y2="435.3"/><line x1="1127.5" y1="300.3" x2="1127.5" y2="435.3"/>
<path d="M1104.5,300.5 V372.5 Q1104.5,375.5 1107.5,376.5"/>
<path d="M1133.5,300.5 V372.5 Q1133.5,375.5 1131.5,376.5"/>
<line x1="1104.5" y1="333.5" x2="1094.5" y2="333.5"/><line x1="1104.5" y1="359.5" x2="1084.8" y2="359.5"/><line x1="1104.4" y1="333.9" x2="1096" y2="315.4"/>
</g>
<g fill="none" stroke="#000" stroke-width="1.2">
<clipPath id="hc6"><path d="M1107.2,168.2 Q1107.2,166.4 1109,166.4 H1129.6 Q1131.4,166.4 1131.4,168.2 V226 H1107.2 Z"/></clipPath><g clip-path="url(#hc6)" stroke="#000" stroke-width="0.9"><line x1="1034.19" y1="166" x2="1094.19" y2="226"/><line x1="1048.33" y1="166" x2="1108.33" y2="226"/><line x1="1062.47" y1="166" x2="1122.47" y2="226"/><line x1="1076.62" y1="166" x2="1136.62" y2="226"/><line x1="1090.76" y1="166" x2="1150.76" y2="226"/><line x1="1104.9" y1="166" x2="1164.9" y2="226"/><line x1="1119.04" y1="166" x2="1179.04" y2="226"/><line x1="1133.18" y1="166" x2="1193.18" y2="226"/></g>
<path d="M1107.5,168.5 Q1107.5,166.5 1109.5,166.5 H1129.5 Q1131.5,166.5 1131.5,168.5 V226.5 H1107.5 Z"/>
<clipPath id="hc7"><path d="M1041.6,236.2 H1056.2 L1059.4,239.2 V248.5 H1098.7 V228.1 Q1098.7,226.1 1100.7,226.1 H1131.4 Q1133.4,226.1 1133.4,228.1 V274.3 H1013.4 V247.4 H1041.6 Z"/></clipPath><g clip-path="url(#hc7)" stroke="#000" stroke-width="0.9"><line x1="1008.48" y1="226" x2="959.48" y2="275"/><line x1="1022.77" y1="226" x2="973.77" y2="275"/><line x1="1037.05" y1="226" x2="988.05" y2="275"/><line x1="1051.33" y1="226" x2="1002.33" y2="275"/><line x1="1065.62" y1="226" x2="1016.62" y2="275"/><line x1="1079.9" y1="226" x2="1030.9" y2="275"/><line x1="1094.18" y1="226" x2="1045.18" y2="275"/><line x1="1108.47" y1="226" x2="1059.47" y2="275"/><line x1="1122.75" y1="226" x2="1073.75" y2="275"/><line x1="1137.03" y1="226" x2="1088.03" y2="275"/><line x1="1151.32" y1="226" x2="1102.32" y2="275"/><line x1="1165.6" y1="226" x2="1116.6" y2="275"/><line x1="1179.88" y1="226" x2="1130.88" y2="275"/><line x1="1194.17" y1="226" x2="1145.17" y2="275"/></g>
<path d="M1041.5,236.5 H1056.5 L1059.5,239.5 V248.5 H1098.5 V228.5 Q1098.5,226.5 1100.5,226.5 H1131.5 Q1133.5,226.5 1133.5,228.5 V274.5"/>
<path d="M1133.4,230.5 A3.2,4.5 0 0 0 1133.4,239.5" stroke-width="1"/>
<path d="M1133.4,241.2 A3.2,4.5 0 0 0 1133.4,250.2" stroke-width="1"/>
<path d="M1133.4,251.5 A3.2,4.5 0 0 0 1133.4,260.5" stroke-width="1"/>
<clipPath id="hc8"><path d="M981.9,217.3 L991.1,217.3 Q994.2,218.5 994.2,221 V226 Q994.2,230.4 998,230.4 H1038.7 L1041.6,233.3 V243.5 H1012.5 L1009.6,247.4 V250.8 H981.9 Z"/></clipPath><g clip-path="url(#hc8)" stroke="#000" stroke-width="0.9"><line x1="936.9" y1="216" x2="971.9" y2="251"/><line x1="951.47" y1="216" x2="986.47" y2="251"/><line x1="966.03" y1="216" x2="1001.03" y2="251"/><line x1="980.6" y1="216" x2="1015.6" y2="251"/><line x1="995.17" y1="216" x2="1030.17" y2="251"/><line x1="1009.73" y1="216" x2="1044.73" y2="251"/><line x1="1024.3" y1="216" x2="1059.3" y2="251"/><line x1="1038.87" y1="216" x2="1073.87" y2="251"/><line x1="1053.43" y1="216" x2="1088.43" y2="251"/></g>
<path d="M994.5,173.5 V226.5 Q994.5,230.5 998.5,230.5 H1038.5 L1041.5,233.5 V247.5"/>
<path d="M1012.5,243.5 H1041.5 M1009.5,247.5 H1041.5 M1012.5,243.5 L1009.5,246.5 V250.5"/>
<rect x="1036.3" y="238.2" width="5" height="3.9" stroke-width="1"/><rect x="1036.3" y="243.5" width="5" height="3.9" stroke-width="1"/>
<clipPath id="hc9"><path d="M963.7,262.5 H975.5 L977,254.2 Q995,258 1007.6,273.2 V274.1 H963.7 Z"/></clipPath><g clip-path="url(#hc9)" stroke="#000" stroke-width="0.9"><line x1="933.82" y1="250" x2="958.82" y2="275"/><line x1="947.96" y1="250" x2="972.96" y2="275"/><line x1="962.11" y1="250" x2="987.11" y2="275"/><line x1="976.25" y1="250" x2="1001.25" y2="275"/><line x1="990.39" y1="250" x2="1015.39" y2="275"/><line x1="1004.53" y1="250" x2="1029.53" y2="275"/><line x1="1018.68" y1="250" x2="1043.68" y2="275"/></g>
<path d="M975.5,250.5 H1012.5 M994.5,250.5 V257.5 H1013.5 V274.5 M1000.5,263.5 H1013.5 M1005.5,269.5 H1013.5"/>
<line x1="963.5" y1="274.5" x2="1133.4" y2="274.5"/>
<line x1="1004.5" y1="274.1" x2="1004.5" y2="300.3"/>
<line x1="1007.5" y1="274.1" x2="1007.5" y2="300.3"/>
<line x1="1013.5" y1="274.1" x2="1013.5" y2="300.3"/>
<line x1="1130.5" y1="274.1" x2="1130.5" y2="300.3"/>
<line x1="1133.5" y1="274.1" x2="1133.5" y2="300.3"/>
<path d="M977,254.2 A55.3,55.3 0 0 1 1007.6,273.2" stroke-width="1.8"/>
<path d="M963.5,222.8 Q966.5,222 968.5,219.5 Q970,217.3 972.5,216.8 Q982,215.8 990.5,217.3 Q992.5,218.2 994.2,220.3"/>
<line x1="981.5" y1="217.3" x2="981.5" y2="249.8"/>
<line x1="969.5" y1="221.5" x2="981.9" y2="221.5"/><line x1="963.5" y1="228.5" x2="981.9" y2="228.5"/><line x1="963.5" y1="235.5" x2="981.9" y2="235.5"/>
<ellipse cx="978.9" cy="224.7" rx="1.9" ry="3.1" stroke-width="1.6"/>
<path d="M975.5,238.5 H981.5 M975.5,241.5 H981.5 M975.5,243.5 H981.5"/>
<line x1="963.5" y1="249.5" x2="975.5" y2="249.5" stroke-width="1.8"/><line x1="975.5" y1="235.3" x2="975.5" y2="262.5"/>
<path d="M963.5,252.5 L975.5,259.5 M963.5,259.5 L975.5,252.5" stroke-width="1"/>
<line x1="963.5" y1="262.5" x2="977" y2="262.5" stroke-width="2"/>
</g>
<g fill="none" stroke="#000" stroke-width="1.2">
<path d="M896.5,151.5 H1030.5 V173.5 H896.5 Z"/>
<path d="M950.5,151.5 V125.5 Q957.5,121.5 963.5,125.5 Q970.5,121.5 976.5,125.5 V151.5"/>
<line x1="950.7" y1="126.5" x2="961.5" y2="150.8"/><line x1="961.5" y1="126.5" x2="950.7" y2="150.8"/><line x1="966" y1="126.5" x2="976.3" y2="150.8"/><line x1="976.3" y1="126.5" x2="966" y2="150.8"/>
</g>
<line x1="963.5" y1="124.5" x2="963.5" y2="151.3" stroke="#000" stroke-width="2.2"/>
<g stroke="#000" stroke-width="1.1" fill="none">
<line x1="963.5" y1="110" x2="963.5" y2="437.1"/><line x1="963.5" y1="443.3" x2="963.5" y2="592.7"/>
<line x1="826.9" y1="300.5" x2="966.7" y2="300.5"/><line x1="979.1" y1="300.5" x2="991.7" y2="300.5"/><line x1="1004.2" y1="300.5" x2="1138.8" y2="300.5"/>
<line x1="714.5" y1="166.5" x2="963.5" y2="166.5"/><line x1="714.5" y1="435.5" x2="963.5" y2="435.5"/><line x1="720.5" y1="166" x2="720.5" y2="435.2"/>
<line x1="763" y1="190.5" x2="963.5" y2="190.5"/><line x1="763" y1="410.5" x2="963.5" y2="410.5"/><line x1="769.5" y1="190.2" x2="769.5" y2="410.4"/>
<line x1="805.9" y1="274.5" x2="963.5" y2="274.5"/><line x1="805.9" y1="326.5" x2="963.5" y2="326.5"/><line x1="812.5" y1="235.9" x2="812.5" y2="274.2"/><line x1="812.5" y1="326.3" x2="812.5" y2="364.7"/>
<line x1="1133.5" y1="378.8" x2="1133.5" y2="592.7"/><line x1="963.5" y1="586.5" x2="1133.3" y2="586.5"/>
<line x1="1021.6" y1="486.2" x2="1040" y2="391.1"/><line x1="1021.6" y1="486.5" x2="1105.4" y2="486.5"/><line x1="1048.1" y1="337.3" x2="1043.5" y2="364"/>
</g>
<path d="M720.5,166 L723.2,184.8 L717.8,184.8 Z" fill="#000" stroke="none"/>
<path d="M720.5,435.2 L717.8,416.4 L723.2,416.4 Z" fill="#000" stroke="none"/>
<path d="M769.5,190.2 L772.2,209 L766.8,209 Z" fill="#000" stroke="none"/>
<path d="M769.5,410.4 L766.8,391.6 L772.2,391.6 Z" fill="#000" stroke="none"/>
<path d="M812.5,274.2 L809.8,255.4 L815.2,255.4 Z" fill="#000" stroke="none"/>
<path d="M812.5,326.3 L815.2,345.1 L809.8,345.1 Z" fill="#000" stroke="none"/>
<path d="M963.5,586.5 L982.3,583.8 L982.3,589.2 Z" fill="#000" stroke="none"/>
<path d="M1133.5,586.5 L1114.7,589.2 L1114.7,583.8 Z" fill="#000" stroke="none"/>
<path d="M1040,391.1 L1038.84,409.21 L1034.32,408.34 Z" fill="#000" stroke="none"/><path d="M1043.5,364 L1044.09,345.84 L1049.02,346.69 Z" fill="#000" stroke="none"/>
<text transform="translate(708.4,295.7) rotate(-90) scale(0.92,1.0)" font-size="24" text-anchor="middle" fill="#000">ØL</text>
<text transform="translate(755.4,293.35) rotate(-90) scale(0.98,1.0)" font-size="24" text-anchor="middle" fill="#000">ØM</text>
<text transform="translate(799.2,295.65) rotate(-90) scale(0.96,1.0)" font-size="24" text-anchor="middle" fill="#000">ØN</text>
<text transform="translate(1046.35,573.7) scale(0.85,1.0)" font-size="25.8" text-anchor="middle" fill="#000">B</text>
<text transform="translate(1089.3,472.9)" font-size="22" text-anchor="middle" fill="#000">ØP</text>
<g fill="none" stroke="#000" stroke-width="1.15">
<circle cx="221.5" cy="780.5" r="67.2"/>
<path d="M206.49,827.25 A49.1,49.1 0 1 1 219.19,829.55"/>
<circle cx="221.5" cy="780.5" r="31.7"/>
<path d="M193.5,780.5 L207.5,756.5 L235.5,756.5 L249.5,780.5 L235.5,804.5 L207.5,804.5 Z"/>
<circle cx="221.5" cy="780.5" r="21.8" stroke-width="1"/>
<circle cx="221.5" cy="780.5" r="20.3" stroke-width="1"/>
<circle cx="221.5" cy="780.5" r="14.5" stroke-width="2.2"/>
<path d="M221.5,766.5 L235.5,780.5 L221.5,794.5 L207.5,780.5 Z" stroke-width="1.1"/>
<circle cx="186.5" cy="745.4" r="7.7"/>
<line x1="194.97" y1="753.9" x2="178.03" y2="736.9" stroke-width="1"/>
<line x1="180.84" y1="751.05" x2="192.16" y2="739.75" stroke-width="1"/>
<circle cx="256.2" cy="745.4" r="7.7"/>
<line x1="247.76" y1="753.93" x2="264.64" y2="736.87" stroke-width="1"/>
<line x1="250.51" y1="739.78" x2="261.89" y2="751.02" stroke-width="1"/>
<circle cx="186.5" cy="815.2" r="7.7"/>
<line x1="195.02" y1="806.75" x2="177.98" y2="823.65" stroke-width="1"/>
<line x1="192.13" y1="820.88" x2="180.87" y2="809.52" stroke-width="1"/>
<circle cx="256.2" cy="815.2" r="7.7"/>
<line x1="247.71" y1="806.71" x2="264.69" y2="823.69" stroke-width="1"/>
<line x1="261.86" y1="809.54" x2="250.54" y2="820.86" stroke-width="1"/>
</g>
<g fill="none" stroke="#000" stroke-width="1.25">
<line x1="67" y1="780.5" x2="126.7" y2="780.5"/><line x1="132" y1="780.5" x2="272.9" y2="780.5"/><line x1="284" y1="780.5" x2="297.5" y2="780.5"/>
<circle cx="310.6" cy="780.1" r="0.5" fill="#000"/>
<line x1="221.5" y1="716.9" x2="221.5" y2="869.8"/>
<line x1="173.5" y1="732.3" x2="112.4" y2="671.2"/>
<path d="M74.1,780.5 A147.4,147.4 0 0 1 117.27,676.27"/>
<line x1="203.1" y1="784.3" x2="68" y2="919.9"/><line x1="218.2" y1="798.5" x2="82.3" y2="933.8"/>
<line x1="14.3" y1="857.5" x2="113.8" y2="956"/>
<line x1="179.5" y1="815" x2="179.5" y2="923.8"/><line x1="194.5" y1="815" x2="194.5" y2="923.8"/><line x1="141" y1="917.5" x2="262.9" y2="917.5"/>
<line x1="229.3" y1="731.5" x2="368.7" y2="731.5"/><line x1="218.2" y1="829.5" x2="368.7" y2="829.5"/><line x1="361.5" y1="731.1" x2="361.5" y2="829.2"/>
<line x1="221.5" y1="713.5" x2="425.1" y2="713.5"/><line x1="221.5" y1="847.5" x2="425.1" y2="847.5"/><line x1="418.5" y1="713.4" x2="418.5" y2="847.2"/>
</g>
<path d="M361.5,731.1 L364.4,750.4 L358.6,750.4 Z" fill="none" stroke="#000" stroke-width="1.05" stroke-linejoin="miter"/>
<path d="M361.5,829.2 L358.6,809.9 L364.4,809.9 Z" fill="none" stroke="#000" stroke-width="1.05" stroke-linejoin="miter"/>
<path d="M418.5,713.4 L421.4,732.7 L415.6,732.7 Z" fill="none" stroke="#000" stroke-width="1.05" stroke-linejoin="miter"/>
<path d="M418.5,847.2 L415.6,827.9 L421.4,827.9 Z" fill="none" stroke="#000" stroke-width="1.05" stroke-linejoin="miter"/>
<path d="M179.3,917.5 L160,920.4 L160,914.6 Z" fill="none" stroke="#000" stroke-width="1.05" stroke-linejoin="miter"/>
<path d="M194.4,917.5 L213.7,914.6 L213.7,920.4 Z" fill="none" stroke="#000" stroke-width="1.05" stroke-linejoin="miter"/>
<path d="M72.3,915.2 L56.6,903.6 L60.7,899.5 Z" fill="none" stroke="#000" stroke-width="1.05" stroke-linejoin="miter"/>
<path d="M86.6,929.5 L102.3,941.1 L98.2,945.2 Z" fill="none" stroke="#000" stroke-width="1.05" stroke-linejoin="miter"/>
<path d="M74.5,780.6 L71.6,761.6 L77.4,761.6 Z" fill="none" stroke="#000" stroke-width="0.9" stroke-linejoin="miter"/>
<path d="M117.1,676 L105.72,691.49 L101.61,687.38 Z" fill="none" stroke="#000" stroke-width="0.9" stroke-linejoin="miter"/>
<text transform="translate(349.1,777.9) rotate(-90) scale(0.83,1.0)" font-size="26" text-anchor="middle" fill="#000" font-style="italic">ØG</text>
<text transform="translate(405.5,779.3) rotate(-90) scale(0.8,1.0)" font-size="26" text-anchor="middle" fill="#000" font-style="italic">ØF</text>
<text transform="translate(244.95,905) scale(0.84,1.0)" font-size="26" text-anchor="middle" fill="#000" font-style="italic">ØH</text>
<text transform="translate(70.5,725) rotate(-71)" font-size="25.5" text-anchor="middle" fill="#000">45°</text>
<g transform="translate(29.3,853.6) rotate(45)">
<path d="M-12.1,0 L0,0 L3.6,-18.7 L-8.55,-18.7 Z M-12.1,0 L3.6,-18.7 M0,0 L-8.55,-18.7" fill="none" stroke="#000" stroke-width="1.1"/>
<text x="8.5" y="0" font-size="25.6" fill="#000" font-style="italic" transform="scale(0.92,1)">C</text>
</g>
</svg>
</body></html>
